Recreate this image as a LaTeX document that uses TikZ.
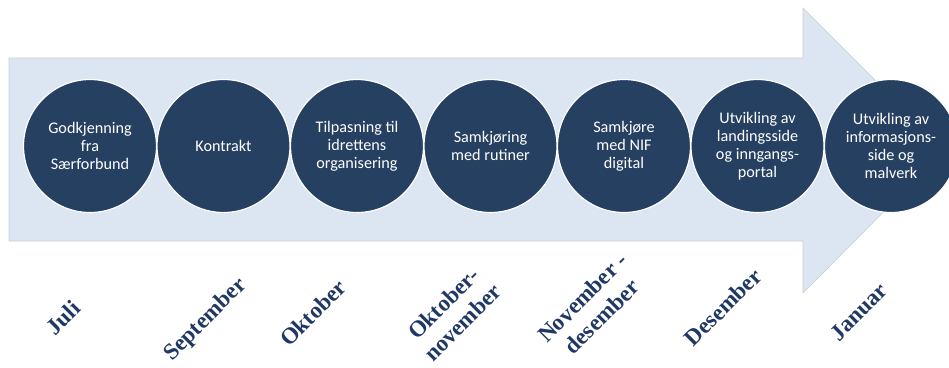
\documentclass[tikz,border=0pt]{standalone}
\usepackage{fontspec}
\setmainfont{Liberation Serif}
\newfontfamily\circfont{Carlito}
\definecolor{navy}{HTML}{264061}
\definecolor{monthcol}{HTML}{1F3864}
\definecolor{arrowfill}{HTML}{DCE6F2}
\definecolor{arrowline}{HTML}{C8CED6}
\tikzset{
  stage/.style={circle, fill=navy, draw=white, line width=1.2bp, minimum size=133bp, inner sep=0pt,
    text=white, align=center, font=\circfont\fontsize{16.2bp}{18bp}\selectfont},
  month/.style={rotate=45, text=monthcol, align=center, inner sep=0pt, font=\bfseries\fontsize{23bp}{27bp}\selectfont}
}
\begin{document}
\begin{tikzpicture}[x=1bp,y=-1bp]
\useasboundingbox (0,0) rectangle (949,367);
\fill[white] (0,0) rectangle (949,367);
\draw[fill=arrowfill, draw=arrowline, line width=0.6bp]
  (9,58) -- (803,58) -- (803,8) -- (945,150) -- (803,293) -- (803,241) -- (9,241) -- cycle;
\node[stage] (s1) at (90,146) {Godkjenning\\fra\\Særforbund};
\node[stage] (s2) at (223.5,146) {Kontrakt};
\node[stage] (s3) at (357,146) {Tilpasning til\\idrettens\\organisering};
\node[stage] (s4) at (490.5,146) {Samkjøring\\med rutiner};
\node[stage] (s5) at (624,146) {Samkjøre\\med NIF\\digital};
\node[stage] (s6) at (757.5,146) {Utvikling av\\landingsside\\og inngangs-\\portal};
\node[stage] (s7) at (891,146) {Utvikling av\\informasjons-\\side og\\malverk};
\node[month] (m1) at (63,318) {Juli};
\node[month] (m2) at (206,320) {September};
\node[month] (m3) at (313,313) {Oktober};
\node[month] (m4) at (453,313) {Oktober-\\november};
\node[month] (m5) at (592,307) {November -\\desember};
\node[month] (m6) at (723,307) {Desember};
\node[month] (m7) at (859,312) {Januar};
\end{tikzpicture}
\end{document}
